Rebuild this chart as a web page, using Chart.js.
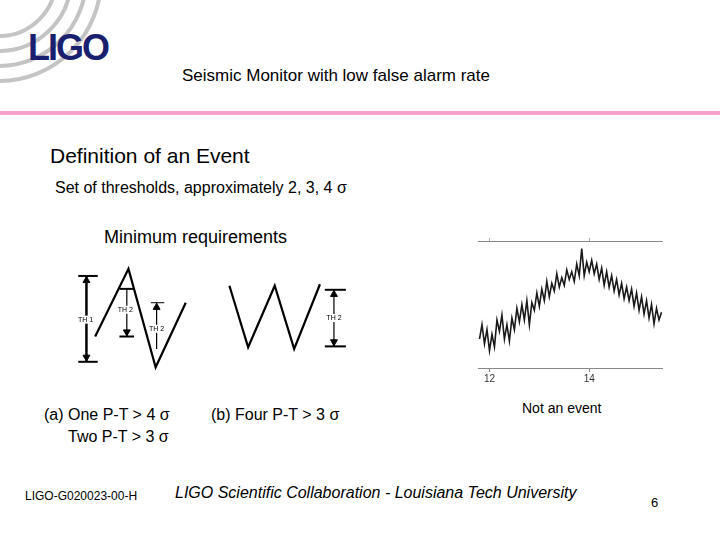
<!DOCTYPE html>
<html>
<head>
<meta charset="utf-8">
<script src="https://cdn.jsdelivr.net/npm/chart.js@4.4.0/dist/chart.umd.min.js"></script>
<style>
  body { margin: 0; background: #fff; font-family: "Liberation Sans", Arial, sans-serif; }
  #page { position: relative; width: 720px; height: 540px; overflow: hidden; }
  .t { position: absolute; white-space: nowrap; color: #000; }
  .arcs { position: absolute; left: 0; top: 0; width: 130px; height: 95px; overflow: hidden; }
  .arc { position: absolute; border: 4px solid #c4c4c4; border-radius: 50%; }
  #rule { position: absolute; left: 0; top: 111px; width: 720px; height: 4px; background: #f5a3cc; }
</style>
</head>
<body>
<div id="page">
  <div class="arcs">
    <div class="arc" style="left:-60px;top:-80px;width:110px;height:110px"></div>
    <div class="arc" style="left:-75px;top:-95px;width:140px;height:140px"></div>
    <div class="arc" style="left:-90px;top:-110px;width:170px;height:170px"></div>
    <div class="arc" style="left:-105px;top:-125px;width:200px;height:200px"></div>
  </div>
  <div class="t" style="left:28px;top:27px;font:bold 36px 'Liberation Sans';color:#1a2070;letter-spacing:-2px">LIGO</div>
  <div class="t" style="left:182px;top:66px;font-size:17px">Seismic Monitor with low false alarm rate</div>
  <div id="rule"></div>
  <div class="t" style="left:50px;top:144px;font-size:21px">Definition of an Event</div>
  <div class="t" style="left:55px;top:179px;font-size:16px">Set of thresholds, approximately 2, 3, 4 σ</div>
  <div class="t" style="left:104px;top:227px;font-size:18px">Minimum requirements</div>
  <div class="t" style="left:44px;top:406px;font-size:16px">(a) One P-T &gt; 4 σ</div>
  <div class="t" style="left:68px;top:428px;font-size:16px">Two P-T &gt; 3 σ</div>
  <div class="t" style="left:211px;top:406px;font-size:16px">(b) Four P-T &gt; 3 σ</div>
  <div class="t" style="left:522px;top:400px;font-size:14px">Not an event</div>
  <div class="t" style="left:25px;top:489px;font-size:12px">LIGO-G020023-00-H</div>
  <div class="t" style="left:175px;top:484px;font-size:16px;font-style:italic">LIGO Scientific Collaboration - Louisiana Tech University</div>
  <div class="t" style="left:651px;top:495px;font-size:13px">6</div>
  <canvas id="diagram" style="position:absolute;left:40px;top:250px;width:340px;height:130px"></canvas>
  <canvas id="seismic" style="position:absolute;left:478px;top:234px;width:185px;height:152px"></canvas>
</div>
<script>
// Diagram geometry (units of the diagram box, y up)
const zigA = [[51.7, 41.7], [86, 115], [114, 8.3], [145, 78.3]];
const zigB = [[190, 96.7], [209.3, 30], [236.7, 96.7], [256.7, 28.3], [283.3, 98.3]];
const th1 = { x: 42.7, top: 107.3, bottom: 14.3, capL: 34.3, capR: 54.3 };
const th2a = { x: 84.3, top: 93.3, bottom: 41.7, capL: 76.7, capR: 91.7 };
const th2b = { x: 115, top: 78.3, bottom: 28.3, capL: 109, capR: 123 };
const th2c = { x: 297.7, top: 92.3, bottom: 31, capL: 288.3, capR: 310 };
const diagramLabels = [['TH 1', 41.7, 60], ['TH 2', 82.7, 70.7], ['TH 2', 115, 50], ['TH 2', 297.7, 61.7]];

// Seismic trace (time, amplitude)
const seisX = [11.80, 11.85, 11.90, 11.95, 12.00, 12.05, 12.10, 12.15, 12.20, 12.25, 12.30, 12.35, 12.40, 12.45,
  12.50, 12.55, 12.60, 12.65, 12.70, 12.75, 12.80, 12.85, 12.90, 12.95, 13.00, 13.05, 13.10, 13.15, 13.20, 13.25,
  13.30, 13.35, 13.40, 13.45, 13.50, 13.55, 13.60, 13.65, 13.70, 13.75, 13.80, 13.85, 13.90, 13.95, 14.00, 14.05,
  14.10, 14.15, 14.20, 14.25, 14.30, 14.35, 14.40, 14.45, 14.50, 14.55, 14.60, 14.65, 14.70, 14.75, 14.80, 14.85,
  14.90, 14.95, 15.00, 15.05, 15.10, 15.15, 15.20, 15.25, 15.30, 15.35, 15.40, 15.45];
const seisY = [30, 45, 25, 40, 18, 35, 22, 50, 38, 55, 30, 45, 28, 52,
  40, 62, 48, 66, 50, 70, 45, 68, 60, 78, 64, 82, 70, 90, 74, 88,
  80, 98, 84, 94, 86, 102, 92, 100, 90, 108, 96, 124, 96, 110, 100, 112,
  98, 108, 92, 104, 86, 100, 84, 96, 80, 92, 76, 88, 72, 84, 70, 82,
  64, 78, 60, 74, 56, 70, 52, 66, 46, 62, 50, 58];
const seisTicks = [12, 14];

const pts = a => a.map(p => ({ x: p[0], y: p[1] }));

function thDatasets(t, headAt) {
  const head = headAt === 'both' ? [t.top, t.bottom] : [headAt === 'up' ? t.top : t.bottom];
  return [
    { data: [{ x: t.x, y: t.top }, { x: t.x, y: t.bottom }], borderWidth: t === th1 ? 2.5 : 1.2 },
    { data: [{ x: t.capL, y: t.top }, { x: t.capR, y: t.top }], borderWidth: t === th2b ? 1 : 2 },
    { data: [{ x: t.capL, y: t.bottom }, { x: t.capR, y: t.bottom }], borderWidth: t === th2b ? 0 : 2 },
    { data: head.map(y => ({ x: t.x, y: y === t.top ? y - 5 : y + 5 })), pointStyle: 'triangle',
      pointRadius: 4, pointBackgroundColor: '#000', rotation: head.map(y => y === t.top ? 0 : 180) }
  ];
}

const labelPlugin = {
  id: 'labels',
  afterDatasetsDraw(c) {
    const ctx = c.ctx, xs = c.scales.x, ys = c.scales.y;
    ctx.save();
    ctx.font = '7px "Liberation Sans"';
    ctx.textAlign = 'center';
    ctx.textBaseline = 'middle';
    diagramLabels.forEach(([t, x, y]) => {
      const w = ctx.measureText(t).width + 2;
      ctx.fillStyle = '#fff';
      ctx.fillRect(xs.getPixelForValue(x) - w / 2, ys.getPixelForValue(y) - 4, w, 8);
      ctx.fillStyle = '#000';
      ctx.fillText(t, xs.getPixelForValue(x), ys.getPixelForValue(y));
    });
    ctx.restore();
  }
};

function initDiagram() {
  const sets = [
    { data: pts(zigA), borderWidth: 2.2 },
    { data: pts(zigB), borderWidth: 2.2 },
    ...thDatasets(th1, 'both'),
    ...thDatasets(th2a, 'down'),
    ...thDatasets(th2b, 'up'),
    ...thDatasets(th2c, 'both')
  ].map(d => Object.assign({ borderColor: '#000', showLine: !d.pointStyle, pointRadius: 0, tension: 0 }, d));
  new Chart(document.getElementById('diagram'), {
    type: 'scatter',
    data: { datasets: sets },
    options: {
      responsive: false, animation: false, maintainAspectRatio: false,
      layout: { padding: 0 },
      plugins: { legend: { display: false }, tooltip: { enabled: false } },
      scales: {
        x: { display: false, min: 0, max: 340 },
        y: { display: false, min: 0, max: 130 }
      }
    },
    plugins: [labelPlugin]
  });
}

function initSeismic() {
  new Chart(document.getElementById('seismic'), {
    type: 'scatter',
    data: {
      datasets: [{
        data: seisX.map((x, i) => ({ x, y: seisY[i] })),
        showLine: true, pointRadius: 0, borderColor: '#1a1a1a', borderWidth: 1.6, tension: 0
      }]
    },
    options: {
      responsive: false, animation: false, maintainAspectRatio: false,
      layout: { padding: { top: 4, left: 0, right: 0 } },
      plugins: { legend: { display: false }, tooltip: { enabled: false } },
      scales: {
        x: {
          min: 11.77, max: 15.48,
          afterBuildTicks: s => { s.ticks = seisTicks.map(v => ({ value: v })); },
          grid: { drawOnChartArea: false, tickLength: 4, color: '#888' },
          border: { color: '#888' },
          ticks: { color: '#333', font: { size: 10 }, padding: 1 }
        },
        x2: {
          position: 'top', min: 11.77, max: 15.48,
          afterBuildTicks: s => { s.ticks = seisTicks.map(v => ({ value: v })); },
          grid: { drawOnChartArea: false, tickLength: 3, color: '#aaa' },
          border: { color: '#888' },
          ticks: { display: false }
        },
        y: { display: false, min: 0, max: 132 }
      }
    }
  });
}

document.addEventListener('DOMContentLoaded', () => { initDiagram(); initSeismic(); });
</script>
</body>
</html>
